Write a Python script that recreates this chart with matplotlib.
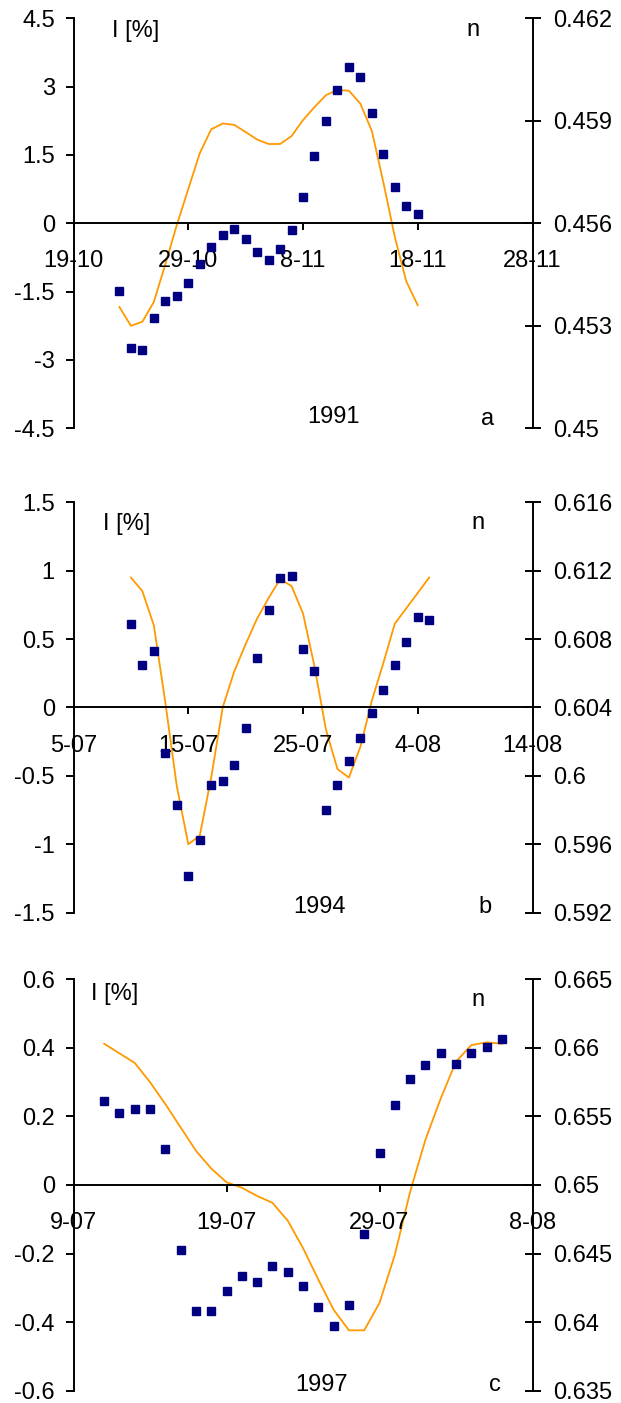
import numpy as np
import matplotlib
matplotlib.use('Agg')
import matplotlib.pyplot as plt

plt.rcParams['font.family'] = ['Liberation Sans', 'DejaVu Sans']
plt.rcParams['axes.unicode_minus'] = False

# 1991 : days counted from 19-10
days_a = np.arange(4, 31)
I_a = [-1.48, -2.74, -2.79, -2.07, -1.70, -1.60, -1.30, -0.89, -0.51, -0.25,
       -0.12, -0.35, -0.62, -0.80, -0.56, -0.15, 0.57, 1.47, 2.25, 2.93,
       3.43, 3.21, 2.42, 1.51, 0.79, 0.38, 0.21]
n_a = [0.45355, 0.45300, 0.45312, 0.45370, 0.45480, 0.45595, 0.45700, 0.45805,
       0.45875, 0.45892, 0.45888, 0.45867, 0.45845, 0.45832, 0.45832, 0.45855,
       0.45902, 0.45940, 0.45975, 0.45990, 0.45988, 0.45950, 0.45870, 0.45720,
       0.45560, 0.45430, 0.45360]
xlabels_a = ['19-10', '29-10', '8-11', '18-11', '28-11']

# 1994 : days counted from 5-07
days_b = np.arange(5, 32)
I_b = [0.61, 0.31, 0.41, -0.33, -0.71, -1.23, -0.97, -0.57, -0.54, -0.42,
       -0.15, 0.36, 0.71, 0.95, 0.96, 0.43, 0.27, -0.75, -0.57, -0.39,
       -0.22, -0.04, 0.13, 0.31, 0.48, 0.66, 0.64]
n_b = [0.6116, 0.6108, 0.6088, 0.6043, 0.5994, 0.5960, 0.5965, 0.5999,
       0.6040, 0.6061, 0.6077, 0.6092, 0.6104, 0.6115, 0.6111, 0.6095,
       0.6064, 0.6027, 0.6004, 0.5999, 0.6017, 0.6044, 0.6066, 0.6089,
       0.6098, 0.6107, 0.6116]
xlabels_b = ['5-07', '15-07', '25-07', '4-08', '14-08']

# 1997 : days counted from 9-07
days_c = np.arange(2, 29)
I_c = [0.246, 0.209, 0.223, 0.223, 0.106, -0.189, -0.369, -0.369, -0.308,
       -0.265, -0.283, -0.236, -0.253, -0.296, -0.356, -0.411, -0.350,
       -0.144, 0.094, 0.233, 0.308, 0.350, 0.385, 0.354, 0.385, 0.403, 0.426]
n_c = [0.6603, 0.6596, 0.6589, 0.6575, 0.6559, 0.6542, 0.6525, 0.6512,
       0.6502, 0.6498, 0.6492, 0.6487, 0.6474, 0.6454, 0.6431, 0.6409,
       0.6394, 0.6394, 0.6414, 0.6449, 0.6495, 0.6533, 0.6563, 0.6590,
       0.6602, 0.6604, 0.6603]
xlabels_c = ['9-07', '19-07', '29-07', '8-08']


def panel(rect, days, I, n, xlabels, span, left_ticks, left_labels,
          right_ticks, right_labels, year, letter, pos):
    ax = fig.add_axes(rect)
    ax2 = ax.twinx()
    # squares drawn above the n curve
    ax.set_zorder(ax2.get_zorder() + 1)
    ax.patch.set_visible(False)

    ax2.plot(days, n, color='#FF9900', lw=1.3)
    ax.plot(days, I, 's', color='#000080', ms=6.2, mec='#000080')

    ax.set_xlim(0, span)
    ax.set_xticks(np.arange(0, span + 1, 10))
    ax.set_xticklabels(xlabels)
    ax.set_ylim(left_ticks[0], left_ticks[-1])
    ax.set_yticks(left_ticks)
    ax.set_yticklabels(left_labels)
    ax2.set_ylim(right_ticks[0], right_ticks[-1])
    ax2.set_yticks(right_ticks)
    ax2.set_yticklabels(right_labels)

    for s in ['top', 'right']:
        ax.spines[s].set_visible(False)
    for s in ['top', 'left', 'bottom']:
        ax2.spines[s].set_visible(False)
    ax.spines['bottom'].set_position(('data', 0))
    for sp in [ax.spines['left'], ax.spines['bottom'], ax2.spines['right']]:
        sp.set_linewidth(1.4)

    ax.tick_params(axis='y', direction='out', length=5.5, width=1.4, pad=8,
                   labelsize=17)
    ax.tick_params(axis='x', direction='out', length=5, width=1.4, pad=14.5,
                   labelsize=17)
    ax2.tick_params(axis='y', direction='inout', length=11, width=1.4, pad=9,
                    labelsize=17)

    (ix, iy), (nx, ny), (yx, yy), (lx, ly) = pos
    kw = dict(transform=ax.transAxes, fontsize=17)
    ax.text(ix, iy, 'I [%]', ha='left', va='top', **kw)
    ax.text(nx, ny, 'n', ha='center', va='center', **kw)
    ax.text(yx, yy, year, ha='center', va='center', **kw)
    ax.text(lx, ly, letter, ha='center', va='center', **kw)


fig = plt.figure(figsize=(6.21, 14.03), dpi=100)

panel([0.1184, 0.6947, 0.7391, 0.2923], days_a, I_a, n_a, xlabels_a, 40,
      [-4.5, -3, -1.5, 0, 1.5, 3, 4.5],
      ['-4.5', '-3', '-1.5', '0', '1.5', '3', '4.5'],
      [0.45, 0.453, 0.456, 0.459, 0.462],
      ['0.45', '0.453', '0.456', '0.459', '0.462'],
      '1991', 'a',
      [(0.084, 0.996), (0.871, 0.971), (0.567, 0.028), (0.901, 0.023)])

panel([0.1184, 0.3495, 0.7391, 0.2925], days_b, I_b, n_b, xlabels_b, 40,
      [-1.5, -1, -0.5, 0, 0.5, 1, 1.5],
      ['-1.5', '-1', '-0.5', '0', '0.5', '1', '1.5'],
      [0.592, 0.596, 0.6, 0.604, 0.608, 0.612, 0.616],
      ['0.592', '0.596', '0.6', '0.604', '0.608', '0.612', '0.616'],
      '1994', 'b',
      [(0.065, 0.973), (0.882, 0.950), (0.537, 0.014), (0.896, 0.014)])

panel([0.1184, 0.0088, 0.7391, 0.2932], days_c, I_c, n_c, xlabels_c, 30,
      [-0.6, -0.4, -0.2, 0, 0.2, 0.4, 0.6],
      ['-0.6', '-0.4', '-0.2', '0', '0.2', '0.4', '0.6'],
      [0.635, 0.64, 0.645, 0.65, 0.655, 0.66, 0.665],
      ['0.635', '0.64', '0.645', '0.65', '0.655', '0.66', '0.665'],
      '1997', 'c',
      [(0.037, 0.991), (0.881, 0.950), (0.541, 0.014), (0.918, 0.014)])

fig.savefig('out.png', dpi=100)
